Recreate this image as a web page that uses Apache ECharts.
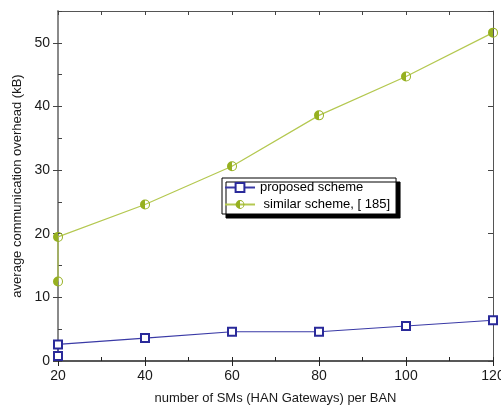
<!DOCTYPE html>
<html>
<head>
<meta charset="utf-8">
<script src="https://cdn.jsdelivr.net/npm/echarts@6/dist/echarts.min.js"></script>
<style>
  html, body { margin: 0; padding: 0; background: #fff; }
  #chart { width: 501px; height: 412px; }
</style>
</head>
<body>
<div id="chart"></div>
<script>
// x positions (two readings at 20)
var smCounts = [20, 20, 40, 60, 80, 100, 120];
var proposedKB = [0.8, 2.6, 3.6, 4.6, 4.6, 5.5, 6.4];
var similarKB = [12.5, 19.5, 24.6, 30.6, 38.6, 44.7, 51.6];
var seriesNames = ["proposed scheme", " similar scheme, [ 185]"];

function pairs(xs, ys) {
  return xs.map(function (x, i) { return [x, ys[i]]; });
}

// left half filled disc + thin outline ring on the right half
var halfCircle = "path://M10,0 A10,10 0 0,0 10,20 Z M10,0 A10,10 0 0,1 10,20 L10,18 A8,8 0 0,0 10,2 Z";

var font = "Liberation Sans";
var chart = echarts.init(document.getElementById("chart"));

var tickLabel = { fontFamily: font, fontSize: 14, color: "#1a1a1a", showMaxLabel: false };

chart.setOption({
  animation: false,
  grid: { left: 58, right: 8, top: 11, bottom: 51, outerBoundsMode: "none", containLabel: false },
  legend: {
    left: 222,
    top: 178,
    orient: "vertical",
    data: seriesNames,
    backgroundColor: "#fff",
    borderColor: "#000",
    borderWidth: 1,
    padding: [3, 6, 3, 2],
    itemGap: 4,
    itemWidth: 30,
    itemHeight: 11,
    shadowColor: "#000",
    shadowOffsetX: 4,
    shadowOffsetY: 4,
    shadowBlur: 0,
    textStyle: { fontFamily: font, fontSize: 13, color: "#000" },
  },
  xAxis: [
    {
      type: "value",
      position: "bottom",
      min: 20,
      max: 120,
      interval: 20,
      name: "number of SMs (HAN Gateways) per BAN",
      nameLocation: "middle",
      nameGap: 31,
      nameTextStyle: { fontFamily: font, fontSize: 13, color: "#1a1a1a" },
      axisLine: { onZero: false, lineStyle: { color: "#222", width: 1.5 } },
      axisTick: { length: 5, lineStyle: { color: "#222" } },
      axisLabel: { fontFamily: font, fontSize: 14, color: "#1a1a1a" },
      splitLine: { show: false },
    },
    {
      type: "value",
      position: "bottom",
      min: 20,
      max: 120,
      interval: 10,
      axisLine: { show: false },
      axisTick: { inside: true, length: 4, lineStyle: { color: "#222" } },
      axisLabel: { show: false },
      splitLine: { show: false },
    },
    {
      type: "value",
      position: "top",
      min: 20,
      max: 120,
      interval: 10,
      axisLine: { onZero: false, lineStyle: { color: "#555", width: 1 } },
      axisTick: { inside: true, length: 4, lineStyle: { color: "#444" } },
      axisLabel: { show: false },
      splitLine: { show: false },
    },
  ],
  yAxis: [
    {
      type: "value",
      position: "left",
      min: 0,
      max: 55,
      interval: 10,
      name: "average communication overhead (kB)",
      nameLocation: "middle",
      nameGap: 34,
      nameTextStyle: { fontFamily: font, fontSize: 13, color: "#1a1a1a" },
      axisLine: { onZero: false, lineStyle: { color: "#8a8a8a", width: 2 } },
      axisTick: { length: 5, lineStyle: { color: "#444" } },
      axisLabel: tickLabel,
      splitLine: { show: false },
    },
    {
      type: "value",
      position: "left",
      min: 0,
      max: 55,
      interval: 5,
      axisLine: { show: false },
      axisTick: { inside: true, length: 4, lineStyle: { color: "#444" } },
      axisLabel: { show: false },
      splitLine: { show: false },
    },
    {
      type: "value",
      position: "right",
      min: 0,
      max: 55,
      interval: 10,
      axisLine: { onZero: false, lineStyle: { color: "#555", width: 1 } },
      axisTick: { inside: true, length: 5, lineStyle: { color: "#444" } },
      axisLabel: { show: false },
      splitLine: { show: false },
    },
  ],
  series: [
    {
      name: seriesNames[0],
      type: "line",
      data: pairs(smCounts, proposedKB),
      symbol: "emptyRect",
      symbolSize: 8,
      lineStyle: { color: "#3a3aa6", width: 1.2 },
      itemStyle: { color: "#2a2a9a", borderColor: "#2a2a9a", borderWidth: 1 },
    },
    {
      name: seriesNames[1],
      type: "line",
      data: pairs(smCounts, similarKB),
      symbol: halfCircle,
      symbolSize: 10,
      lineStyle: { color: "#b4c850", width: 1.2 },
      itemStyle: { color: "#96b020" },
    },
  ],
});
</script>
</body>
</html>
